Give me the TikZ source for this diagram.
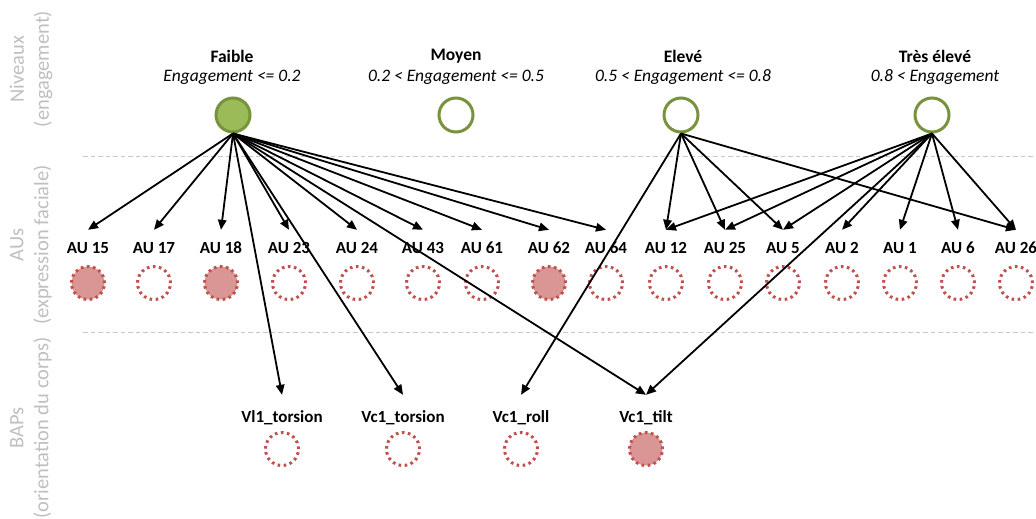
\documentclass[tikz,border=0pt]{standalone}
\usepackage{fontspec}
\setmainfont{Carlito}
\usetikzlibrary{arrows.meta}
\definecolor{lvlgreen}{HTML}{77933C}
\definecolor{lvlfill}{HTML}{9BBB59}
\definecolor{aured}{HTML}{C0504D}
\definecolor{aufill}{HTML}{D99694}
\definecolor{sidegray}{HTML}{BFBFBF}
\definecolor{sepgray}{HTML}{C8C8C8}
\tikzset{
  sidelbl/.style={rotate=90, align=center, text=sidegray, font=\fontsize{20.5}{25}\selectfont, inner sep=0pt},
  lvltitle/.style={font=\fontsize{17.5}{20}\selectfont\bfseries, inner sep=0pt},
  lvlcond/.style={font=\fontsize{17.5}{20}\selectfont\itshape, inner sep=0pt},
  lvlcirc/.style={circle, draw=lvlgreen, line width=3pt, minimum size=34pt, inner sep=0pt},
  lvlon/.style={lvlcirc, fill=lvlfill},
  aulbl/.style={font=\fontsize{17}{20}\selectfont\bfseries, text height=11pt, text depth=0pt, inner xsep=1pt, inner ysep=12.5pt},
  baplbl/.style={font=\fontsize{17}{20}\selectfont\bfseries, text height=11pt, text depth=0pt, inner xsep=1pt, inner ysep=16.5pt},
  aucirc/.style={circle, draw=aured, line width=3pt, dash pattern=on 2.6pt off 3.5pt, minimum size=33pt, inner sep=0pt},
  auon/.style={aucirc, fill=aufill},
  sep/.style={draw=sepgray, line width=1pt, dash pattern=on 4.5pt off 3pt},
  link/.style={draw=black, line width=1.8pt, -{Triangle[length=10pt,width=8.5pt]}},
}
\begin{document}
\begin{tikzpicture}[x=1pt,y=-1pt]
\useasboundingbox (0,0) rectangle (1036,519);

% side labels
\node[sidelbl] (sideN) at (31,69) {Niveaux\\(engagement)};
\node[sidelbl] (sideA) at (31,245) {AUs\\(expression faciale)};
\node[sidelbl] (sideB) at (31,428) {BAPs\\(orientation du corps)};

% separators
\coordinate (s1a) at (83,156); \coordinate (s1b) at (1036,156);
\coordinate (s2a) at (83,332); \coordinate (s2b) at (1036,332);
\draw[sep] (s1a) -- (s1b);
\draw[sep] (s2a) -- (s2b);

% levels
\node[lvltitle] (tf) at (232,56) {Faible};
\node[lvlcond] (cf) at (232,77) {Engagement <= 0.2};
\node[lvltitle] (tm) at (456,56) {Moyen};
\node[lvlcond] (cm) at (456,77) {0.2 < Engagement <= 0.5};
\node[lvltitle] (te) at (683,56) {Elevé};
\node[lvlcond] (ce) at (683,77) {0.5 < Engagement <= 0.8};
\node[lvltitle] (tt) at (935,56) {Très élevé};
\node[lvlcond] (ct) at (935,77) {0.8 < Engagement};

\node[lvlon] (faible) at (233,115) {};
\node[lvlcirc] (moyen) at (456,115) {};
\node[lvlcirc] (eleve) at (681,115) {};
\node[lvlcirc] (tres) at (932,115) {};

% AUs
\foreach \n/\x/\t/\s in {
  15/88/AU 15/auon, 17/154/AU 17/aucirc, 18/221/AU 18/auon, 23/289/AU 23/aucirc,
  24/357/AU 24/aucirc, 43/423/AU 43/aucirc, 61/482/AU 61/aucirc, 62/549/AU 62/auon,
  64/606/AU 64/aucirc, 12/666/AU 12/aucirc, 25/725/AU 25/aucirc, 5/783/AU 5/aucirc,
  2/842/AU 2/aucirc, 1/900/AU 1/aucirc, 6/958/AU 6/aucirc, 26/1016/AU 26/aucirc}{
  \node[aulbl] (au\n) at (\x,248) {\t};
  \node[\s] (cau\n) at (\x,283) {};
}

% BAPs
\foreach \n/\x/\t/\s in {
  vlt/282/Vl1\_torsion/aucirc, vct/403/Vc1\_torsion/aucirc,
  vcr/521/Vc1\_roll/aucirc, vctilt/646/Vc1\_tilt/auon}{
  \node[baplbl] (b\n) at (\x,417) {\t};
  \node[\s] (cb\n) at (\x,449) {};
}

% links from Faible
\foreach \t in {au15,au17,au18,au23,au24,au43,au61,au62,au64,bvlt,bvct,bvctilt}
  \draw[link] (faible.south) -- (\t.north);
% links from Eleve
\foreach \t in {au12,au25,au5,au26,bvcr}
  \draw[link] (eleve.south) -- (\t.north);
% links from Tres eleve
\foreach \t in {au12,au25,au5,au2,au1,au6,au26,bvctilt}
  \draw[link] (tres.south) -- (\t.north);
\end{tikzpicture}
\end{document}
